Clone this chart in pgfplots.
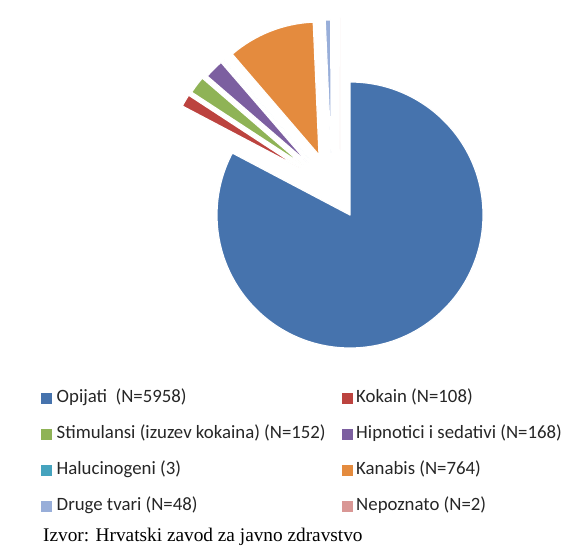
\documentclass[border=0pt]{standalone}
\usepackage{pgfplots}
\pgfplotsset{compat=1.18}
\usepackage{fontspec}
\setmainfont{Carlito}
\newfontfamily\capfont{Liberation Serif}

\definecolor{opij}{HTML}{4673AD}
\definecolor{koka}{HTML}{BC433F}
\definecolor{stim}{HTML}{8FB356}
\definecolor{hipn}{HTML}{7C5FA0}
\definecolor{halu}{HTML}{45A3BE}
\definecolor{kana}{HTML}{E48B3E}
\definecolor{drug}{HTML}{98AED9}
\definecolor{nepo}{HTML}{D99795}

\begin{document}
\begin{tikzpicture}
\begin{axis}[
    at={(0,0)}, anchor=south west,
    scale only axis, width=563pt, height=546pt,
    xmin=0, xmax=563, ymin=0, ymax=546,
    hide axis, clip=false,
    legend columns=2,
    legend cell align=left,
    legend image code/.code={\fill[#1, draw=none] (0pt,-5.5pt) rectangle (11pt,5.5pt);},
    legend style={
        at={(axis cs:41,157)}, anchor=north west,
        draw=none, fill=none, inner sep=0pt,
        font=\fontsize{18.8}{20}\selectfont, text=black!85,
        nodes={inner sep=0pt, text height=13pt, text depth=5pt},
        row sep=18pt,
        /tikz/column 1/.style={column sep=4.5pt},
        /tikz/column 2/.style={column sep=16pt},
        /tikz/column 3/.style={column sep=3.5pt},
    },
]
% legend, row by row
\addlegendimage{fill=opij}\addlegendentry{Opijati\ \ (N=5958)}
\addlegendimage{fill=koka}\addlegendentry{Kokain (N=108)}
\addlegendimage{fill=stim}\addlegendentry{Stimulansi (izuzev kokaina) (N=152)}
\addlegendimage{fill=hipn}\addlegendentry{Hipnotici i sedativi (N=168)}
\addlegendimage{fill=halu}\addlegendentry{Halucinogeni (3)}
\addlegendimage{fill=kana}\addlegendentry{Kanabis (N=764)}
\addlegendimage{fill=drug}\addlegendentry{Druge tvari (N=48)}
\addlegendimage{fill=nepo}\addlegendentry{Nepoznato (N=2)}

% pie: value / colour / explode offset (x, y)
\def\tot{7203}
\gdef\cum{0}
\foreach \v/\c/\ex/\ey in {5958/opij/0/0, 108/koka/-50/47, 152/stim/-47/50,
        168/hipn/-42/52, 3/halu/-40/55, 764/kana/-31/60, 48/drug/-19/62, 2/nepo/-10/64} {
    \pgfmathsetmacro\aa{90-\cum/\tot*360}
    \pgfmathsetmacro\ab{90-(\cum+\v)/\tot*360}
    \pgfmathsetmacro\cx{350+\ex}
    \pgfmathsetmacro\cy{331+\ey}
    \edef\temp{\noexpand\filldraw[fill=\c, draw=white, line width=1.2pt, line join=round]
        (axis cs:\cx,\cy) -- ++(\aa:133pt) arc[start angle=\aa, end angle=\ab, radius=133pt] -- cycle;}
    \temp
    \pgfmathsetmacro\n{\cum+\v}\xdef\cum{\n}
}

\node[anchor=base west, inner sep=0pt, font=\capfont\fontsize{19.3}{21}\selectfont]
    at (axis cs:43,4.5) {Izvor: Hrvatski zavod za javno zdravstvo};
\end{axis}
\pgfresetboundingbox
\useasboundingbox (0,0) rectangle (563pt,546pt);
\end{tikzpicture}
\end{document}
